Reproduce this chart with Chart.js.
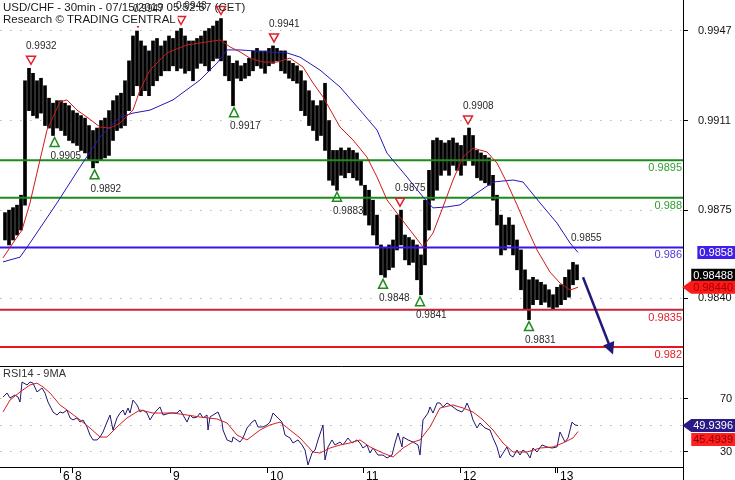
<!DOCTYPE html>
<html>
<head>
<meta charset="utf-8">
<title>USD/CHF 30min</title>
<script src="https://cdn.jsdelivr.net/npm/chart.js"></script>
<style>
  body { margin: 0; background: #fff; }
  #wrap { position: relative; width: 735px; height: 480px; overflow: hidden; }
  #priceChart { position: absolute; left: 0; top: 0; width: 735px; height: 366px; }
  #rsiChart { position: absolute; left: 0; top: 366px; width: 735px; height: 114px; }
</style>
</head>
<body>
<div id="wrap">
  <canvas id="priceChart" width="735" height="366"></canvas>
  <canvas id="rsiChart" width="735" height="114"></canvas>
</div>
<script>
// one bar per hour, index 0 = first bar on the left
const barHigh = [
  0.9874, 0.9875, 0.9876, 0.9877, 0.9881, 0.9927, 0.9932, 0.9930, 0.9927, 0.9928,
  0.9925, 0.9920, 0.9918, 0.9919, 0.9919, 0.9918, 0.9917, 0.9915, 0.9914, 0.9913,
  0.9912, 0.9909, 0.9907, 0.9908, 0.9911, 0.9912, 0.9915, 0.9919, 0.9921, 0.9922,
  0.9927, 0.9935, 0.9945, 0.9947, 0.9943, 0.9941, 0.9939, 0.9943, 0.9944, 0.9941,
  0.9943, 0.9945, 0.9944, 0.9947, 0.9948, 0.9945, 0.9943, 0.9943, 0.9944, 0.9945,
  0.9947, 0.9948, 0.9949, 0.9951, 0.9952, 0.9943, 0.9937, 0.9934, 0.9935, 0.9933,
  0.9934, 0.9936, 0.9939, 0.9940, 0.9939, 0.9939, 0.9940, 0.9941, 0.9940, 0.9939,
  0.9939, 0.9935, 0.9934, 0.9933, 0.9931, 0.9927, 0.9923, 0.9919, 0.9917, 0.9919,
  0.9926, 0.9911, 0.9899, 0.9899, 0.9900, 0.9899, 0.9900, 0.9899, 0.9898, 0.9895,
  0.9885, 0.9883, 0.9879, 0.9873, 0.9861, 0.9860, 0.9861, 0.9863, 0.9873, 0.9875,
  0.9865, 0.9864, 0.9863, 0.9861, 0.9857, 0.9879, 0.9891, 0.9903, 0.9904, 0.9903,
  0.9902, 0.9903, 0.9904, 0.9902, 0.9901, 0.9905, 0.9908, 0.9905, 0.9899, 0.9898,
  0.9897, 0.9896, 0.9889, 0.9881, 0.9873, 0.9869, 0.9872, 0.9869, 0.9863, 0.9859,
  0.9851, 0.9847, 0.9848, 0.9847, 0.9846, 0.9845, 0.9843, 0.9841, 0.9844, 0.9845,
  0.9848, 0.9851, 0.9854, 0.9853
];
const barLow = [
  0.9863, 0.9861, 0.9863, 0.9865, 0.9867, 0.9877, 0.9915, 0.9913, 0.9912, 0.9914,
  0.9909, 0.9908, 0.9905, 0.9908, 0.9907, 0.9905, 0.9903, 0.9902, 0.9901, 0.9899,
  0.9898, 0.9895, 0.9892, 0.9894, 0.9895, 0.9896, 0.9897, 0.9903, 0.9907, 0.9908,
  0.9909, 0.9915, 0.9921, 0.9925, 0.9921, 0.9923, 0.9921, 0.9925, 0.9927, 0.9929,
  0.9931, 0.9931, 0.9933, 0.9931, 0.9932, 0.9930, 0.9931, 0.9927, 0.9932, 0.9934,
  0.9933, 0.9931, 0.9935, 0.9936, 0.9935, 0.9929, 0.9927, 0.9917, 0.9928, 0.9927,
  0.9928, 0.9929, 0.9931, 0.9933, 0.9932, 0.9930, 0.9933, 0.9934, 0.9935, 0.9931,
  0.9930, 0.9928, 0.9927, 0.9926, 0.9915, 0.9913, 0.9909, 0.9907, 0.9903, 0.9905,
  0.9899, 0.9887, 0.9885, 0.9883, 0.9889, 0.9888, 0.9890, 0.9888, 0.9887, 0.9885,
  0.9873, 0.9869, 0.9865, 0.9861, 0.9849, 0.9848, 0.9851, 0.9852, 0.9859, 0.9861,
  0.9855, 0.9853, 0.9854, 0.9847, 0.9841, 0.9853, 0.9867, 0.9879, 0.9883, 0.9889,
  0.9891, 0.9889, 0.9893, 0.9891, 0.9889, 0.9893, 0.9895, 0.9893, 0.9888, 0.9887,
  0.9886, 0.9885, 0.9879, 0.9869, 0.9857, 0.9859, 0.9861, 0.9857, 0.9851, 0.9843,
  0.9835, 0.9831, 0.9837, 0.9839, 0.9837, 0.9838, 0.9836, 0.9835, 0.9836, 0.9837,
  0.9839, 0.9840, 0.9845, 0.9847
];

// moving averages (red = short, blue = long)
const maRedX = [-0.5, 2, 4.25, 6.25, 8.75, 10.5, 13.75, 15.5, 18, 20.5, 23.75, 26.25, 28.75, 32,
  33.75, 36.25, 40.5, 45.5, 50.5, 53.75, 56.25, 58.75, 61.25, 64.5, 68, 71.25, 74.5, 77, 79.5,
  83.75, 87, 90.5, 93, 95.5, 98.75, 101.25, 104.5, 107, 109.5, 112, 114.5, 117, 120.5, 123,
  125.5, 128, 130.5, 133, 136.25, 138.75, 141.25, 143.25];
const maRedY = [0.98558, 0.98618, 0.98670, 0.98779, 0.98952, 0.99072, 0.99185, 0.99193, 0.99152,
  0.99124, 0.99084, 0.99080, 0.99100, 0.99152, 0.99233, 0.99313, 0.99382, 0.99414, 0.99426,
  0.99434, 0.99406, 0.99386, 0.99361, 0.99345, 0.99345, 0.99361, 0.99325, 0.99261, 0.99205,
  0.99084, 0.99032, 0.98963, 0.98883, 0.98791, 0.98722, 0.98670, 0.98602, 0.98658, 0.98763,
  0.98871, 0.98963, 0.98999, 0.98984, 0.98939, 0.98860, 0.98771, 0.98678, 0.98590, 0.98501,
  0.98457, 0.98429, 0.98440];
const maBlueX = [-0.5, 3.75, 6.25, 13, 18.75, 23.75, 28.75, 32, 36.25, 42, 48.75, 53, 55.5, 58.75,
  65.5, 70.5, 73.75, 78.75, 83.75, 88.75, 93, 95.5, 100.5, 104.5, 107, 110.5, 113.75, 118, 122,
  127, 129.5, 133.75, 138, 141.25, 143.25];
const maBlueY = [0.98542, 0.98561, 0.98618, 0.98779, 0.98923, 0.99044, 0.99124, 0.99140, 0.99152,
  0.99193, 0.99273, 0.99341, 0.99394, 0.99394, 0.99386, 0.99382, 0.99365, 0.99313, 0.99245,
  0.99152, 0.99072, 0.98979, 0.98883, 0.98803, 0.98759, 0.98763, 0.98771, 0.98819, 0.98863,
  0.98871, 0.98863, 0.98779, 0.98698, 0.98618, 0.98580];

// support / resistance levels
const levels = [0.9895, 0.988, 0.986, 0.9835, 0.982];
const levelText = ['0.9895', '0.988', '0.986', '0.9835', '0.982'];
const levelColor = ['#1b8c1b', '#1b8c1b', '#3c14e6', '#c8243c', '#e8141e'];
const levelInk = ['#2e9e2e', '#2e9e2e', '#4a3ad8', '#e0202a', '#e0202a'];

// swing highs (H), lows (L) and a plain tag (T)
const annIdx = [6.5, 33.25, 44, 54, 67.25, 98.75, 115.75, 142.75, 12.4, 22.4, 57.25, 83, 94.5, 103.75, 131];
const annPrice = [0.9932, 0.9947, 0.9948, 0.9952, 0.9941, 0.9875, 0.9908, 0.9855,
  0.9905, 0.9892, 0.9917, 0.9883, 0.9848, 0.9841, 0.9831];
const annKind = ['H', 'H', 'H', 'H', 'H', 'H', 'H', 'T', 'L', 'L', 'L', 'L', 'L', 'L', 'L'];

// forecast arrow [index, price]
const arrowFrom = [144.5, 0.9848];
const arrowTo = [152, 0.9817];

// last values shown on the right axis
const boxVals = [0.9858, 0.98488, 0.98440];
const boxText = ['0.9858', '0.98488', '0.98440'];
const boxFill = ['#4020e8', '#000000', '#ff1818'];
const boxInk = ['#ffffff', '#ffffff', '#9a0000'];
const boxArrow = [false, false, true];

const priceTicks = [0.9947, 0.9911, 0.9875, 0.98395];
const priceTickLab = ['0.9947', '0.9911', '0.9875', '0.9840'];
const headerLines = ['USD/CHF - 30min - 07/15/2019 05:52:57 (CET)', 'Research \u00a9 TRADING CENTRAL'];

// RSI14 and its 9 period average
const rsiX = [-0.5, 0.5, 1.25, 2.5, 3.25, 3.75, 4.25, 5.5, 6.25, 7, 8, 9.25, 10, 10.75, 12, 13,
  13.75, 14.5, 15.5, 16.25, 17, 18, 18.75, 19.5, 20.5, 21.25, 22, 23, 23.75, 24.5, 25.5, 26.25,
  27, 28, 28.75, 29.5, 30, 30.75, 31.25, 32, 33, 33.25, 33.75, 34.5, 35.5, 36.25, 37, 38, 38.75,
  39.5, 41.25, 43, 43.75, 44.5, 45.5, 46.25, 47, 48, 48.75, 49.5, 50.5, 50.75, 51.25, 52, 53.25,
  54.25, 54.5, 55.5, 56.75, 57, 58, 58.75, 59.5, 60.5, 61.75, 62.5, 63.25, 64.5, 65.5, 66.25, 67,
  68.25, 69.25, 70, 71.25, 72, 73.25, 74.25, 75, 75.75, 76.75, 77.5, 78.25, 79.5, 80, 80.75,
  81.75, 82.5, 83.75, 84.5, 85.75, 86.75, 88, 88.75, 89.5, 90.5, 91.25, 92, 93.25, 94.5, 95.5,
  96.75, 97.5, 98.25, 99.25, 99.5, 100.75, 102, 103.25, 103.75, 104.5, 105.75, 106.25, 107, 108,
  108.75, 109.5, 110.5, 111.25, 112, 113, 114.25, 115, 115.5, 116.25, 117, 118, 118.75, 120,
  121.25, 122, 123, 123.75, 124.5, 125.5, 126.25, 127, 128, 128.75, 129.5, 130.5, 131.25, 132,
  133, 134.25, 135.5, 136.75, 138, 138.75, 140, 140.75, 141.75, 142.5, 143.25];
const rsiVal = [71.5, 74.5, 70.8, 73, 71.5, 67.7, 82.8, 80.6, 82.8, 82, 75.3, 78.3, 74.5, 67.7,
  60.2, 57.9, 60.2, 59.4, 61.7, 55.7, 54.2, 55.7, 52.6, 54.2, 48.9, 42.8, 39.1, 39.1, 41.3, 45.1,
  52.6, 57.9, 46.6, 55.7, 59.4, 61.7, 57.9, 63.2, 59.4, 69.2, 65.5, 64, 60.2, 61.7, 59.4, 54.2,
  57.9, 61.7, 64, 57.9, 59.4, 59.4, 61.7, 57.9, 52.6, 57.9, 55.7, 56.4, 59.4, 55.7, 57.9, 46.6,
  56.4, 57.9, 60.2, 52.6, 46.6, 39.1, 37.5, 41.3, 39.1, 37.5, 40.6, 48.1, 52.6, 54.2, 48.9, 48.9,
  50.4, 52.6, 59.4, 55.7, 52.6, 42.8, 40.6, 36.8, 39.1, 35.3, 31.5, 20.2, 29.2, 31.5, 39.1, 50.4,
  24, 33.8, 39.1, 35.3, 37.5, 35.3, 40.6, 36.8, 39.1, 36.8, 33, 35.3, 29.2, 33, 27.7, 27.7, 25.5,
  27.7, 36.8, 44.3, 33.8, 41.3, 39.1, 37.5, 35.3, 27.7, 54.2, 59.4, 64, 59.4, 67, 67, 64, 67,
  65.5, 64, 61.7, 60.2, 63.2, 67, 61.7, 54.2, 48.1, 51.9, 48.1, 46.6, 40.6, 33.8, 25.5, 29.2,
  33.8, 27.7, 26.2, 31.5, 27.7, 31.5, 29.2, 25.5, 33, 30, 35.3, 33.8, 33, 33.8, 45.1, 37.5, 40.6,
  52.6, 50.4, 49.9396];
const rsiMaX = [-0.5, 1.25, 3.75, 6.25, 8, 9.5, 11.25, 13.75, 15.5, 18.75, 21.25, 23.75, 25.5, 28,
  30.5, 33.75, 37, 42, 45.5, 48.75, 53, 55.5, 58, 60.5, 63.75, 66.25, 68.75, 71.25, 73.75, 77,
  78.75, 81.25, 83.75, 86.25, 88.75, 91.25, 94.5, 97, 99.5, 102, 103.75, 106.25, 108.75, 112,
  114.5, 117, 119.5, 122, 124.5, 127, 130.5, 133.75, 137, 139.5, 142, 143.25];
const rsiMaVal = [60.2, 69.2, 75.3, 80.6, 82, 79.1, 74.5, 65.5, 61.7, 54.2, 48.1, 41.3, 41.3, 48.9,
  55.7, 61.7, 59.4, 59.4, 57.9, 56.4, 54.9, 51.9, 42.8, 39.1, 46.6, 50.4, 52.6, 46.6, 40.6, 30,
  29.2, 33, 35.3, 36.8, 39.1, 33.8, 29.2, 26.2, 33, 37.5, 39.1, 48.9, 63.2, 65.5, 63.2, 60.2,
  54.2, 46.6, 36.8, 30, 30, 33, 33.8, 36.8, 40.6, 45.4939];
const rsiTicks = [30, 50, 70];
const rsiBoxVals = [49.9396, 45.4939];
const rsiBoxFill = ['#2a1a86', '#ff2020'];
const rsiBoxInk = ['#ffffff', '#8a0000'];

// day separators on the time axis
const dayTickPos = [13.75, 16.75, 41.25, 65.5, 89.5, 113.75, 137.5, 138];
const dayTickLab = ['6', '8', '9', '10', '11', '12', '', '13'];

const xMin = -1.25, xMax = 169.5;
const FONT = "'Liberation Sans', Arial, sans-serif";
Chart.defaults.font.family = FONT;

function pts(xs, ys) { return xs.map((x, i) => ({ x: x, y: ys[i] })); }

// keep the plot area flush with the canvas edges
function fitRight(s) { s.width = 52; s.paddingTop = 0; s.paddingBottom = 0; }
function fitBottom(s) { s.height = 13; s.paddingLeft = 0; s.paddingRight = 0; }

function drawBox(ctx, yc, text, fill, ink, arrow, right, h) {
  ctx.font = '11px ' + FONT;
  const w = ctx.measureText(text).width + 4;
  const x0 = right - w;
  ctx.fillStyle = fill;
  ctx.beginPath();
  if (arrow) {
    ctx.moveTo(x0 - 9, yc);
    ctx.lineTo(x0, yc - h / 2);
  } else {
    ctx.moveTo(x0, yc - h / 2);
  }
  ctx.lineTo(right, yc - h / 2);
  ctx.lineTo(right, yc + h / 2);
  ctx.lineTo(x0, yc + h / 2);
  ctx.closePath();
  ctx.fill();
  ctx.fillStyle = ink;
  ctx.textAlign = 'left';
  ctx.textBaseline = 'middle';
  ctx.fillText(text, x0 + 2, yc + 0.5);
}

const pricePlugin = {
  id: 'priceDecor',
  afterDatasetsDraw(chart) {
    const { ctx, chartArea } = chart;
    const xs = chart.scales.x, ys = chart.scales.y;
    ctx.save();

    // level tags
    ctx.font = '11px ' + FONT;
    ctx.textAlign = 'right';
    ctx.textBaseline = 'middle';
    levels.forEach((lv, i) => {
      ctx.fillStyle = levelInk[i];
      ctx.fillText(levelText[i], chartArea.right - 1, ys.getPixelForValue(lv) + 8);
    });

    // forecast arrow
    const ax0 = xs.getPixelForValue(arrowFrom[0]), ay0 = ys.getPixelForValue(arrowFrom[1]);
    const ax1 = xs.getPixelForValue(arrowTo[0]), ay1 = ys.getPixelForValue(arrowTo[1]);
    const ang = Math.atan2(ay1 - ay0, ax1 - ax0);
    ctx.strokeStyle = '#221a78';
    ctx.fillStyle = '#221a78';
    ctx.lineWidth = 2.5;
    ctx.beginPath();
    ctx.moveTo(ax0, ay0);
    ctx.lineTo(ax1 - 8 * Math.cos(ang), ay1 - 8 * Math.sin(ang));
    ctx.stroke();
    ctx.beginPath();
    ctx.moveTo(ax1, ay1);
    ctx.lineTo(ax1 - 12 * Math.cos(ang) + 6 * Math.sin(ang), ay1 - 12 * Math.sin(ang) - 6 * Math.cos(ang));
    ctx.lineTo(ax1 - 12 * Math.cos(ang) - 6 * Math.sin(ang), ay1 - 12 * Math.sin(ang) + 6 * Math.cos(ang));
    ctx.closePath();
    ctx.fill();

    // swing markers
    ctx.lineWidth = 1.5;
    annIdx.forEach((ix, i) => {
      const cx = xs.getPixelForValue(ix), y = ys.getPixelForValue(annPrice[i]);
      ctx.beginPath();
      if (annKind[i] === 'H') {
        const tip = y - 4;
        ctx.strokeStyle = '#e0202a';
        ctx.moveTo(cx - 4.5, tip - 8);
        ctx.lineTo(cx + 4.5, tip - 8);
        ctx.lineTo(cx, tip);
        ctx.closePath();
        ctx.stroke();
      } else if (annKind[i] === 'L') {
        const top = y + 2;
        ctx.strokeStyle = '#1e8c1e';
        ctx.moveTo(cx, top);
        ctx.lineTo(cx + 4.5, top + 9);
        ctx.lineTo(cx - 4.5, top + 9);
        ctx.closePath();
        ctx.stroke();
      }
    });

    // header
    ctx.font = '11.5px ' + FONT;
    ctx.textAlign = 'left';
    ctx.textBaseline = 'middle';
    const w2 = ctx.measureText(headerLines[1]).width;
    ctx.fillStyle = '#ffffff';
    ctx.fillRect(0, 14, w2 + 5, 12);
    ctx.fillStyle = '#1a1a1a';
    ctx.fillText(headerLines[0], 3, 8);
    ctx.fillText(headerLines[1], 3, 20);

    // swing labels
    ctx.font = '10px ' + FONT;
    ctx.fillStyle = '#2a2a2a';
    annIdx.forEach((ix, i) => {
      const cx = xs.getPixelForValue(ix), y = ys.getPixelForValue(annPrice[i]);
      const t = annPrice[i].toFixed(4);
      if (annKind[i] === 'L') ctx.fillText(t, cx - 4, y + 2 + 9 + 10);
      else ctx.fillText(t, cx - 5, y - 4 - 8 - 10);
    });
    ctx.restore();
  },
  afterDraw(chart) {
    const { ctx } = chart;
    const ys = chart.scales.y;
    ctx.save();
    boxVals.forEach((v, i) => {
      drawBox(ctx, ys.getPixelForValue(v), boxText[i], boxFill[i], boxInk[i], boxArrow[i], 735, 13);
    });
    ctx.restore();
  }
};

const rsiPlugin = {
  id: 'rsiDecor',
  afterDraw(chart) {
    const { ctx, chartArea } = chart;
    const ys = chart.scales.y;
    ctx.save();
    ctx.strokeStyle = '#000';
    ctx.lineWidth = 1;
    ctx.beginPath();
    ctx.moveTo(0, chartArea.top + 0.5);
    ctx.lineTo(chartArea.right, chartArea.top + 0.5);
    ctx.moveTo(chartArea.right + 0.5, 0);
    ctx.lineTo(chartArea.right + 0.5, chart.height);
    ctx.stroke();
    ctx.font = '11px ' + FONT;
    ctx.fillStyle = '#333';
    ctx.textAlign = 'left';
    ctx.textBaseline = 'middle';
    ctx.fillText('RSI14 - 9MA', 3, 8);
    let prevBottom = -100;
    rsiBoxVals.forEach((v, i) => {
      let yc = ys.getPixelForValue(v);
      if (yc - 6.5 < prevBottom + 1) yc = prevBottom + 1 + 6.5;
      drawBox(ctx, yc, v.toFixed(4), rsiBoxFill[i], rsiBoxInk[i], i === 0, 735, 13);
      prevBottom = yc + 6.5;
    });
    ctx.restore();
  }
};

const gridDash = [1.5, 8.5];

new Chart(document.getElementById('priceChart'), {
  type: 'bar',
  data: {
    datasets: [
      { type: 'line', data: pts(maRedX, maRedY), borderColor: '#d01818', borderWidth: 1, pointRadius: 0, order: 1 },
      { type: 'line', data: pts(maBlueX, maBlueY), borderColor: '#2418b8', borderWidth: 1, pointRadius: 0, order: 1 },
      ...levels.map((lv, i) => ({
        type: 'line', data: [{ x: xMin, y: lv }, { x: xMax, y: lv }],
        borderColor: levelColor[i], borderWidth: 2, pointRadius: 0, order: 2
      })),
      { type: 'bar', data: barHigh.map((h, i) => ({ x: i, y: [barLow[i], h] })),
        backgroundColor: '#000', borderWidth: 0, barThickness: 3, order: 3 }
    ]
  },
  options: {
    responsive: false,
    animation: false,
    events: [],
    layout: { padding: 0 },
    plugins: { legend: { display: false }, tooltip: { enabled: false } },
    scales: {
      x: { type: 'linear', display: false, min: xMin, max: xMax, offset: false, grid: { offset: false } },
      y: {
        position: 'right', min: 0.981235, max: 0.995946, beginAtZero: false,
        afterBuildTicks: s => { s.ticks = priceTicks.map(v => ({ value: v })); },
        afterFit: fitRight,
        ticks: { color: '#111', padding: 10, font: { size: 11 }, callback: (v, i) => priceTickLab[i] },
        grid: { color: '#b8b8b8', lineWidth: 1, tickLength: 5, tickColor: '#000' },
        border: { display: true, color: '#000', width: 1, dash: gridDash }
      }
    }
  },
  plugins: [pricePlugin]
});

new Chart(document.getElementById('rsiChart'), {
  type: 'line',
  data: {
    datasets: [
      { data: pts(rsiMaX, rsiMaVal), borderColor: '#d42020', borderWidth: 1, pointRadius: 0 },
      { data: pts(rsiX, rsiVal), borderColor: '#201670', borderWidth: 1, pointRadius: 0 }
    ]
  },
  options: {
    responsive: false,
    animation: false,
    events: [],
    layout: { padding: 0 },
    plugins: { legend: { display: false }, tooltip: { enabled: false } },
    scales: {
      x: {
        type: 'linear', min: xMin, max: xMax, offset: false,
        afterBuildTicks: s => { s.ticks = dayTickPos.map(v => ({ value: v })); },
        afterFit: fitBottom,
        ticks: { autoSkip: false, maxRotation: 0, align: 'start', labelOffset: 3, padding: -4,
          color: '#000', font: { size: 12 }, callback: (v, i) => dayTickLab[i] },
        grid: { drawOnChartArea: false, tickLength: 6, tickColor: '#000' },
        border: { display: true, color: '#000' }
      },
      y: {
        position: 'right', min: 18.68, max: 94.9,
        afterBuildTicks: s => { s.ticks = rsiTicks.map(v => ({ value: v })); },
        afterFit: fitRight,
        ticks: { color: '#111', padding: 32, font: { size: 11 }, callback: v => (v === 50 ? '' : String(v)) },
        grid: { color: '#b8b8b8', lineWidth: 1, tickLength: 5, tickColor: '#000' },
        border: { display: true, color: '#000', width: 1, dash: gridDash }
      }
    }
  },
  plugins: [rsiPlugin]
});
</script>
</body>
</html>
